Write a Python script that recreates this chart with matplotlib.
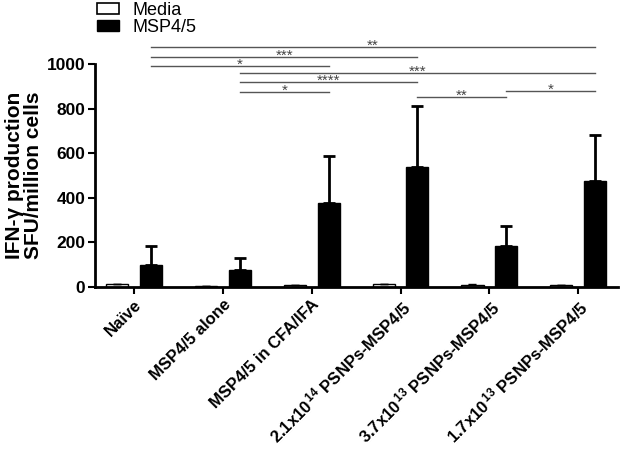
import numpy as np
import matplotlib
matplotlib.use('Agg')
import matplotlib.pyplot as plt
from matplotlib.patches import Patch

plt.rcParams['font.family'] = ['Liberation Sans', 'DejaVu Sans']
plt.rcParams['mathtext.default'] = 'regular'

groups = ['Naïve', 'MSP4/5 alone', 'MSP4/5 in CFA/IFA',
          r'2.1x10$^{\,14}$ PSNPs-MSP4/5', r'3.7x10$^{\,13}$ PSNPs-MSP4/5',
          r'1.7x10$^{\,13}$ PSNPs-MSP4/5']
media = [12, 5, 8, 12, 10, 8]
media_err = [2, 1, 2, 2, 2, 2]
msp = [99, 76, 377, 536, 184, 475]
msp_err = [85, 54, 210, 274, 90, 208]

# significance brackets: (group a, group b, height, label)
sig = [(0, 5, 1076, '**'), (0, 3, 1031, '***'), (0, 2, 991, '*'),
       (1, 5, 960, '***'), (1, 3, 919, '****'), (1, 2, 874, '*'),
       (3, 4, 852, '**'), (4, 5, 879, '*')]

x = np.arange(len(groups))
off = 0.19
w = 0.25

fig = plt.figure(figsize=(6.3, 4.5), dpi=100)
ax = fig.add_axes([0.151, 0.362, 0.830, 0.496])

ax.bar(x - off, media, w, color='white', edgecolor='black', linewidth=1)
ax.errorbar(x - off, media, yerr=[np.zeros(6), media_err], fmt='none',
            ecolor='black', elinewidth=1, capsize=3)
ax.bar(x + off, msp, w, color='black', edgecolor='black')
ax.errorbar(x + off, msp, yerr=[np.zeros(6), msp_err], fmt='none',
            ecolor='black', elinewidth=2, capsize=4, capthick=2)

for a, b, h, lab in sig:
    xa, xb = x[a] + off, x[b] + off
    ax.plot([xa, xb], [h, h], color='#555555', lw=1, clip_on=False)
    ax.text((xa + xb) / 2, h - 26, lab, ha='center', va='bottom',
            fontsize=11, color='#444444', clip_on=False)

ax.set_xlim(-0.44, 5.45)
ax.set_ylim(0, 1000)
ax.set_yticks(range(0, 1001, 200))
ax.set_xticks(x)
ax.set_xticklabels(groups, rotation=45, ha='right', rotation_mode='anchor',
                   fontsize=12, fontweight='bold')
for t in ax.get_yticklabels():
    t.set_fontweight('bold')
    t.set_fontsize(12.5)
ax.tick_params(width=1.5, length=5, pad=2)
ax.spines['top'].set_visible(False)
ax.spines['right'].set_visible(False)
ax.spines['left'].set_linewidth(2)
ax.spines['bottom'].set_linewidth(2)
ax.set_ylabel('IFN-γ production\nSFU/million cells', fontsize=15,
              fontweight='bold', linespacing=1.0)
ax.yaxis.set_label_coords(-0.1, 0.5)

handles = [Patch(facecolor='white', edgecolor='black', linewidth=1.2),
           Patch(facecolor='black', edgecolor='black')]
fig.legend(handles, ['Media', 'MSP4/5'], loc='upper left',
           bbox_to_anchor=(95 / 630, 1.0), frameon=False, fontsize=13,
           labelspacing=0.0, handlelength=1.25, handleheight=0.6,
           handletextpad=0.7, borderpad=0.1, borderaxespad=0)

fig.savefig('out.png', dpi=100)
